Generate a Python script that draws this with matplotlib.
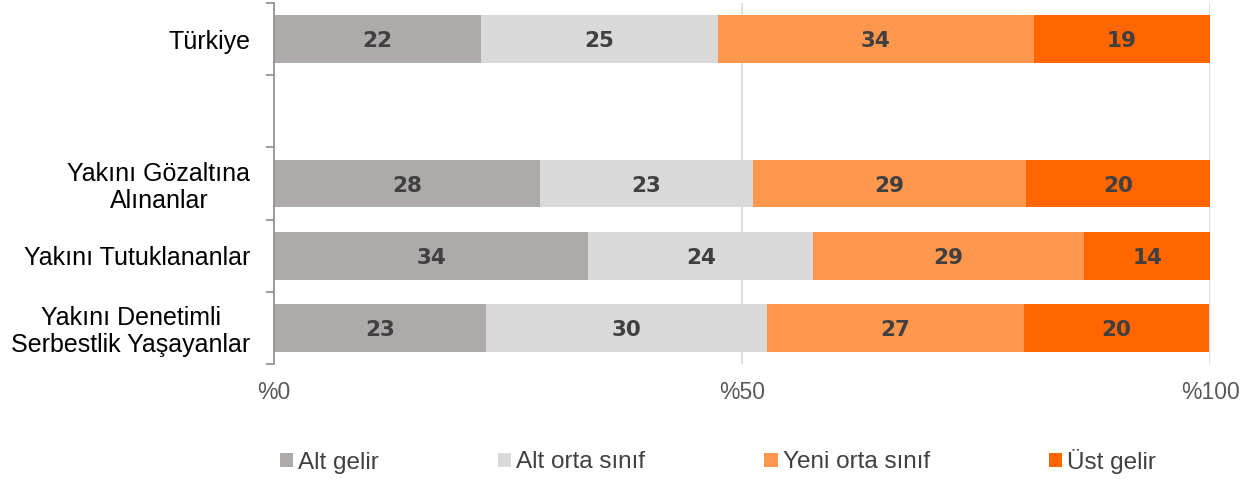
import matplotlib.pyplot as plt
import numpy as np

# veriler
kategoriler = ["Türkiye", "", "Yakını Gözaltına\nAlınanlar", "Yakını Tutuklananlar",
               "Yakını Denetimli\nSerbestlik Yaşayanlar"]
seriler = ["Alt gelir", "Alt orta sınıf", "Yeni orta sınıf", "Üst gelir"]
alt_gelir = [22.1, np.nan, 28.4, 33.6, 22.6]
alt_orta = [25.3, np.nan, 22.8, 24.0, 30.1]
yeni_orta = [33.8, np.nan, 29.1, 28.9, 27.4]
ust_gelir = [18.8, np.nan, 19.7, 13.6, 19.8]
renkler = ["#AEAAA9", "#D9D9D9", "#FF974D", "#FF6600"]
x_ticks = [0, 50, 100]
x_labels = ["%0", "%50", "%100"]

plt.rcParams['font.family'] = ['Liberation Sans', 'DejaVu Sans']

fig = plt.figure(figsize=(12.58, 4.79), dpi=100)
ax = fig.add_axes([274 / 1258, 1 - 364 / 479, (1210 - 274) / 1258, 361 / 479])

y = np.arange(len(kategoriler))
sol = np.zeros(len(kategoriler))
for ad, degerler, renk in zip(seriler, [alt_gelir, alt_orta, yeni_orta, ust_gelir], renkler):
    d = np.array(degerler, dtype=float)
    ax.barh(y, np.nan_to_num(d), left=sol, height=0.66, color=renk, label=ad, zorder=2)
    # bar içi etiketler
    for i, v in enumerate(d):
        if not np.isnan(v):
            ax.text(sol[i] + v / 2, y[i], f"{v:.0f}", ha='center', va='center_baseline',
                    fontsize=15.5, fontweight='heavy', color='#404040', zorder=3,
                    family='DejaVu Sans')
    sol = sol + np.nan_to_num(d)

ax.set_ylim(len(kategoriler) - 0.5, -0.5)
ax.set_xlim(0, 100)

# y ekseni: etiketler ve sınır çizgileri
dolu = [i for i, k in enumerate(kategoriler) if k]
ax.set_yticks(dolu)
ax.set_yticklabels([kategoriler[i] for i in dolu], fontsize=18, color='black',
                   ma='center', linespacing=1.15)
ax.set_yticks(np.arange(-0.5, len(kategoriler)), minor=True)
ax.tick_params(axis='y', which='major', length=0, pad=17)
ax.tick_params(axis='y', which='minor', length=6, width=1.2, color='#8C8C8C', direction='out')

ax.set_xticks(x_ticks)
ax.set_xticklabels(x_labels, fontsize=16.5, color='#595959')
ax.tick_params(axis='x', length=0, pad=12)
ax.xaxis.grid(True, color='#D9D9D9', linewidth=1.2, zorder=0)
ax.set_axisbelow(True)

for s in ['top', 'right', 'bottom']:
    ax.spines[s].set_visible(False)
ax.spines['left'].set_color('#8C8C8C')
ax.spines['left'].set_linewidth(1.2)
ax.spines['left'].set_zorder(4)

fig.legend(loc='center', bbox_to_anchor=(718 / 1258, 1 - 461 / 479), ncol=4, frameon=False,
           fontsize=17.5, handlelength=0.55, handleheight=0.55, handletextpad=0.2,
           columnspacing=4.9, labelcolor='#404040')

plt.savefig('out.png', dpi=100)
